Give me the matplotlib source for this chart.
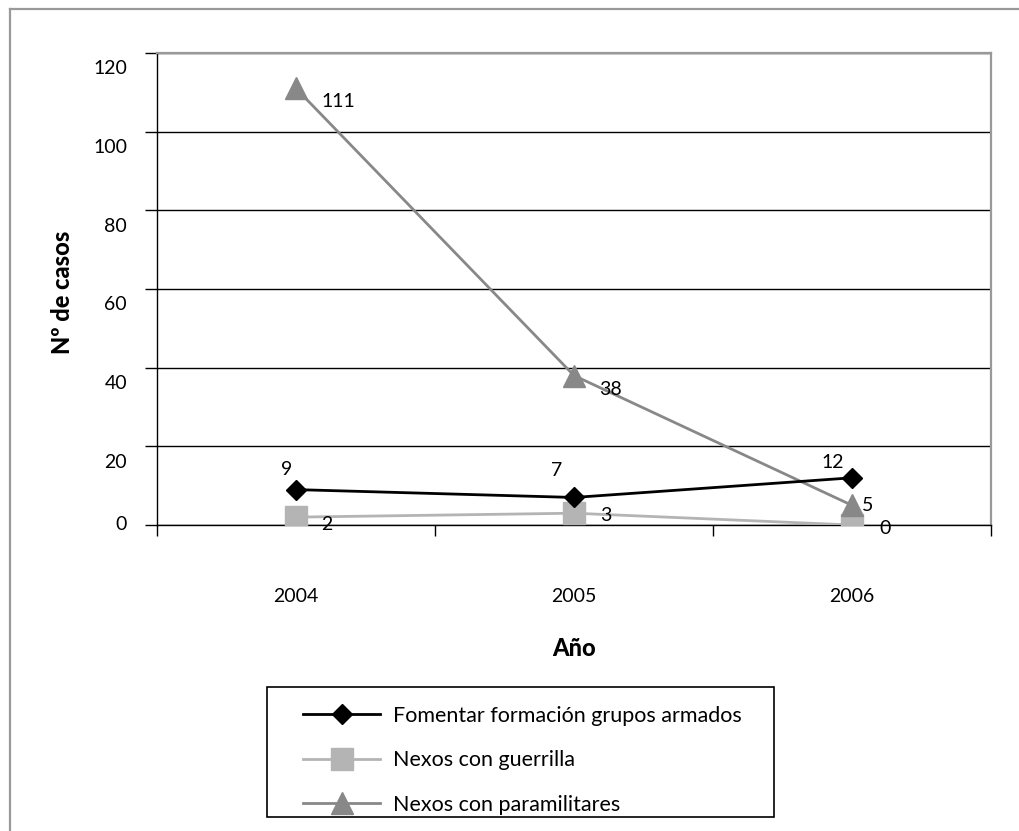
import matplotlib
matplotlib.use("Agg")
import matplotlib.pyplot as plt
from matplotlib.lines import Line2D
from matplotlib.patches import Rectangle
from matplotlib.transforms import ScaledTranslation

years = ["2004", "2005", "2006"]
fomentar = [9, 7, 12]
guerrilla = [2, 3, 0]
paramilitares = [111, 38, 5]
names = ["Fomentar formación grupos armados",
         "Nexos con guerrilla",
         "Nexos con paramilitares"]
y_ticks = [0, 20, 40, 60, 80, 100, 120]

# where each value label sits relative to its marker (pixels)
off_fom = [(-9, 20), (-17, 27), (-19, 15)]
off_gue = [(31, -7), (32, -2), (33, -3)]
off_par = [(42, -13), (37, -14), (16, 0)]

plt.rcParams["font.family"] = ["Lato", "DejaVu Sans"]

W, H = 1020, 831
fig = plt.figure(figsize=(W / 100, H / 100), dpi=100)

# outer frame (top and left edges only)
fig.add_artist(Line2D([10 / W, 1], [1 - 9 / H, 1 - 9 / H], color="#999999", lw=1.6))
fig.add_artist(Line2D([10 / W, 10 / W], [0, 1 - 9 / H], color="#999999", lw=1.6))

ax = fig.add_axes([157 / W, 1 - 525 / H, 834 / W, 472 / H])
x = list(range(len(years)))

ax.plot(x, fomentar, color="black", lw=2.0, marker="D", ms=10, label=names[0], zorder=5)
ax.plot(x, guerrilla, color="#b4b4b4", lw=2.0, marker="s", ms=16, label=names[1], zorder=3)
ax.plot(x, paramilitares, color="#888888", lw=2.0, marker="^", ms=16, label=names[2], zorder=4)

for vals, offs in ((fomentar, off_fom), (guerrilla, off_gue), (paramilitares, off_par)):
    for xi, v, (dx, dy) in zip(x, vals, offs):
        ax.annotate(str(v), (xi, v), xytext=(dx, dy), textcoords="offset pixels",
                    ha="center", va="center", fontsize=14, zorder=6)

ax.set_xlim(-0.5, 2.5)
ax.set_ylim(0, 120)
ax.set_yticks(y_ticks)
ax.set_yticklabels([])
ax.yaxis.grid(True, color="black", lw=1.0)
ax.set_axisbelow(True)

# value axis labels, drawn by hand: all but 0 sit a little below their gridline
ytrans = ax.get_yaxis_transform()
for t in y_ticks:
    dy = 0 if t == 0 else -16
    tr = ytrans + ScaledTranslation(-30 / 100, dy / 100, fig.dpi_scale_trans)
    ax.text(0, t, str(t), transform=tr, ha="right", va="center", fontsize=14)

ax.set_xticks([-0.5, 0.5, 1.5, 2.5])
ax.set_xticklabels([])
ax.set_xticks(x, minor=True)
ax.set_xticklabels(years, minor=True, fontsize=14)
ax.tick_params(axis="x", which="minor", length=0, pad=45)
ax.tick_params(axis="x", which="major", length=8, width=1)
ax.tick_params(axis="y", length=9, width=1)

for side in ("top", "right"):
    ax.spines[side].set_color("#999999")
    ax.spines[side].set_linewidth(1.6)
for side in ("left", "bottom"):
    ax.spines[side].set_color("black")
    ax.spines[side].set_linewidth(1.0)

ax.set_xlabel("Año", fontsize=17, fontweight="black")
ax.xaxis.set_label_coords(0.5, -(648 - 525) / 472)
ax.xaxis.label.set_va("center")
ax.set_ylabel("Nº de casos", fontsize=17, fontweight="black")
ax.yaxis.set_label_coords(-(157 - 62) / 834, (525 - 292) / 472)
ax.yaxis.label.set_va("center")

# legend box
fig.add_artist(Rectangle((267 / W, 1 - 817 / H), (774 - 267) / W, (817 - 687) / H,
                         transform=fig.transFigure, fill=False,
                         edgecolor="black", lw=1.2))
leg = fig.legend(loc="upper left", bbox_to_anchor=(303 / W, 1 - 706 / H),
                 fontsize=15.5, handlelength=3.6, handletextpad=0.6,
                 labelspacing=1.13, borderpad=0, borderaxespad=0, frameon=False)

fig.savefig("out.png", dpi=100)
